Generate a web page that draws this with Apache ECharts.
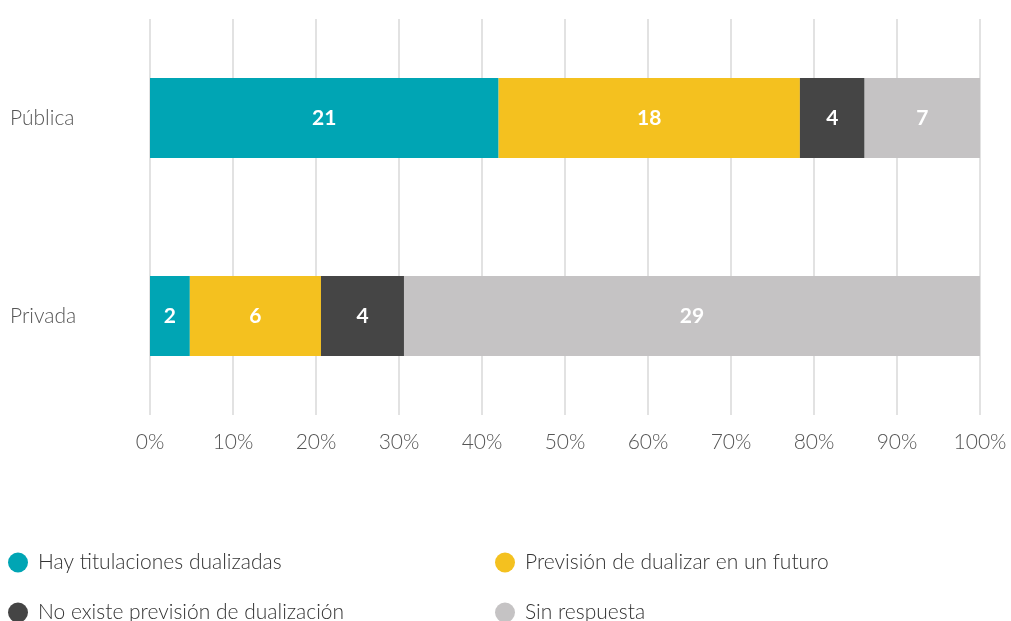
<!DOCTYPE html>
<html>
<head>
<meta charset="utf-8">
<script src="https://cdn.jsdelivr.net/npm/echarts@6/dist/echarts.min.js"></script>
<style>
    html, body { margin: 0; padding: 0; background: #fff; }
    #chart { width: 1011px; height: 621px; }
</style>
</head>
<body>
<div id="chart"></div>
<script>
var categories = ['Pública', 'Privada'];
var seriesNames = [
    'Hay titulaciones dualizadas',
    'Previsión de dualizar en un futuro',
    'No existe previsión de dualización',
    'Sin respuesta'
];
var colors = ['#00a5b4', '#f4c11f', '#454545', '#c5c3c4'];

// counts shown on the bars
var countPublica = [21, 18, 4, 7];
var countPrivada = [2, 6, 4, 29];

// bar widths in %
var sharePublica = [42, 36.3, 7.8, 13.9];
var sharePrivada = [4.8, 15.8, 10, 69.4];

var font = 'Lato';

var series = seriesNames.map(function (name, i) {
    return {
        name: name,
        type: 'bar',
        stack: 'total',
        barWidth: 80,
        itemStyle: { color: colors[i] },
        label: {
            show: true,
            position: 'inside',
            color: '#fff',
            fontFamily: font,
            fontWeight: 'bold',
            fontSize: 21,
            formatter: function (p) { return p.data.count; }
        },
        data: [
            { value: sharePublica[i], count: countPublica[i] },
            { value: sharePrivada[i], count: countPrivada[i] }
        ]
    };
});

function makeLegend(left, names) {
    return {
        orient: 'vertical',
        left: left,
        top: 552,
        height: 120,
        padding: 0,
        icon: 'circle',
        itemWidth: 20,
        itemHeight: 20,
        itemGap: 29,
        data: names,
        textStyle: {
            fontFamily: font,
            fontWeight: 300,
            fontSize: 21,
            lineHeight: 20,
            color: '#333',
            padding: [0, 0, 0, 5]
        }
    };
}

var option = {
    animation: false,
    grid: { left: 150, right: 31, top: 19, bottom: 206 },
    legend: [
        makeLegend(8, [seriesNames[0], seriesNames[2]]),
        makeLegend(495, [seriesNames[1], seriesNames[3]])
    ],
    xAxis: {
        type: 'value',
        min: 0,
        max: 100,
        interval: 10,
        axisLine: { show: false },
        axisTick: { show: false },
        splitLine: { show: true, lineStyle: { color: '#e2e2e2', width: 2 } },
        axisLabel: {
            formatter: '{value}%',
            margin: 17,
            fontFamily: font,
            fontWeight: 300,
            fontSize: 21,
            color: '#555'
        }
    },
    yAxis: {
        type: 'category',
        inverse: true,
        data: categories,
        axisLine: { show: false },
        axisTick: { show: false },
        axisLabel: {
            align: 'left',
            margin: 140,
            fontFamily: font,
            fontWeight: 300,
            fontSize: 21,
            color: '#555'
        }
    },
    series: series
};

echarts.init(document.getElementById('chart')).setOption(option);
</script>
</body>
</html>
